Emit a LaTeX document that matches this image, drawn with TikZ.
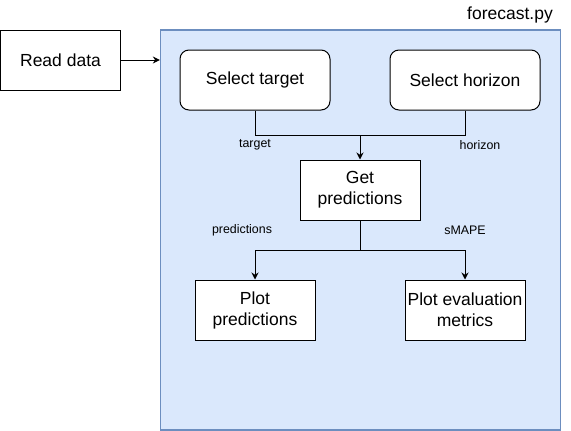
\documentclass[tikz,border=0pt]{standalone}
\usepackage{fontspec}
\setmainfont{Liberation Sans}
\usetikzlibrary{arrows.meta}
\definecolor{boxfill}{HTML}{DAE8FC}
\definecolor{boxline}{HTML}{6C8EBF}
\begin{document}
\begin{tikzpicture}[x=1pt,y=-1pt,
  proc/.style={draw=black, fill=white, line width=1pt, minimum width=120pt, minimum height=60pt,
    inner sep=0pt, align=center, font=\fontsize{17.5}{21}\selectfont},
  sel/.style={proc, rounded corners=9pt, minimum width=150pt},
  lbl/.style={font=\fontsize{12.4}{14}\selectfont, inner sep=0pt},
  wire/.style={line width=1pt},
  conn/.style={wire, -{Stealth[length=7pt,width=7pt]}}]
\useasboundingbox (0,0) rectangle (571,431);
\node[draw=boxline, fill=boxfill, line width=1.3pt, minimum width=400pt, minimum height=400pt, inner sep=0pt] (cont) at (360.5,230) {};
\node[font=\fontsize{17.5}{21}\selectfont, inner sep=0pt] (title) at (510,15) {forecast.py};
\node[proc] (read) at (60.5,60) {Read data};
\node[sel] (tgt) at (255,80) {Select target};
\node[sel] (hor) at (465,80) {Select horizon};
\node[proc] (get) at (360,190) {Get\\predictions};
\node[proc] (pp) at (255,310) {Plot\\predictions};
\node[proc] (pe) at (465,310) {Plot evaluation\\metrics};
\coordinate (join) at (360,135);
\coordinate (split) at (360,250);
\draw[conn] (read.east) -- (read.east -| cont.west);
\draw[wire] (tgt.south) |- (join);
\draw[wire] (hor.south) |- (join);
\draw[conn] (join) -- (get.north);
\draw[wire] (get.south) -- (split);
\draw[conn] (split) -| (pp.north);
\draw[conn] (split) -| (pe.north);
\node[lbl] (ltgt) at (255,145) {target};
\node[lbl] (lhor) at (480,145) {horizon};
\node[lbl] (lpred) at (242,230) {predictions};
\node[lbl] (lsmape) at (465,230) {sMAPE};
\end{tikzpicture}
\end{document}
